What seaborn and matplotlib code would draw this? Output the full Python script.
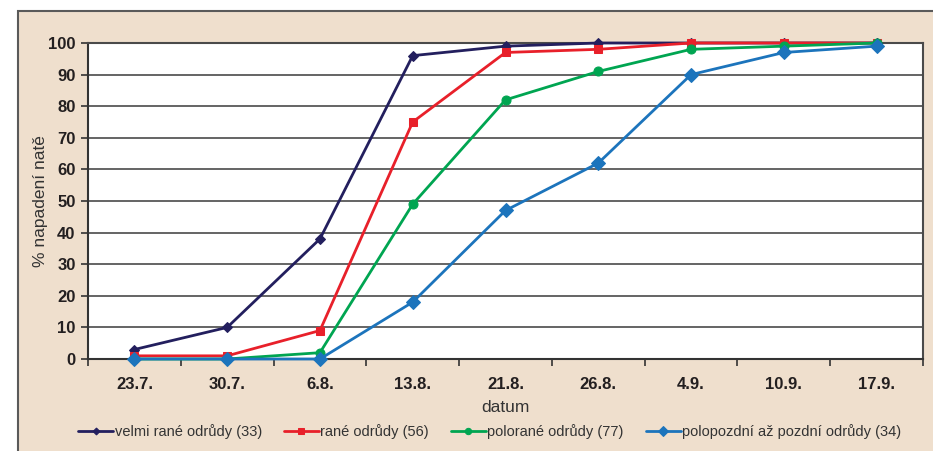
import numpy as np
import pandas as pd
import matplotlib.pyplot as plt
import seaborn as sns
from matplotlib.patches import Rectangle
from matplotlib.ticker import FixedLocator

# %%
datumy = ["23.7.", "30.7.", "6.8.", "13.8.", "21.8.", "26.8.", "4.9.", "10.9.", "17.9."]
velmi_rane = [3, 10, 38, 96, 99, 100, 100, 100, 100]
rane = [1, 1, 9, 75, 97, 98, 100, 100, 100]
polorane = [0, 0, 2, 49, 82, 91, 98, 99, 100]
polopozdni = [0, 0, 0, 18, 47, 62, 90, 97, 99]

nazvy = ["velmi rané odrůdy (33)", "rané odrůdy (56)",
         "polorané odrůdy (77)", "polopozdní až pozdní odrůdy (34)"]
barvy = ["#231F5E", "#E8202A", "#00A551", "#1C74BC"]
znacky = ["D", "s", "o", "D"]
velikosti = [5, 6, 6.5, 7]

# %%
sns.set_theme(style="white")
plt.rcParams["font.family"] = ["Liberation Sans", "DejaVu Sans"]

BEZ = "#EFDFCD"
fig = plt.figure(figsize=(9.33, 4.51), dpi=100, facecolor="white")
fig.patches.append(Rectangle((18 / 933, -0.01), 1, 1.01 - 11 / 451, transform=fig.transFigure,
                             facecolor=BEZ, edgecolor="#5a5a5a", linewidth=1.5, zorder=-10))
ax = fig.add_axes([88 / 933, 1 - 359 / 451, (923 - 88) / 933, (359 - 43) / 451])
ax.set_facecolor("white")

x = np.arange(len(datumy))
rady = [velmi_rane, rane, polorane, polopozdni]
for hodnoty, nazev, barva, znacka, vel in zip(rady, nazvy, barvy, znacky, velikosti):
    sns.lineplot(x=x, y=hodnoty, ax=ax, color=barva, marker=znacka, markersize=vel,
                 markeredgecolor=barva, linewidth=2, label=nazev, clip_on=False, zorder=3,
                 legend=False)

ax.set_xlim(-0.5, len(datumy) - 0.5)
ax.set_ylim(0, 100)
ax.set_yticks(range(0, 101, 10))
ax.yaxis.grid(True, color="#4a4a4a", linewidth=1.2)
ax.set_axisbelow(True)

ax.set_xticks(x)
ax.set_xticklabels(datumy, fontsize=12, fontweight="bold", color="#231F20")
ax.xaxis.set_minor_locator(FixedLocator(np.arange(-0.5, len(datumy), 1)))
ax.tick_params(axis="x", which="major", length=0, pad=13)
ax.tick_params(axis="x", which="minor", length=5, width=1.2, color="#333333", direction="out",
               bottom=True)
ax.tick_params(axis="y", length=5, width=1.2, color="#333333", direction="out", left=True,
               labelsize=12, labelcolor="#231F20", pad=4)
for lab in ax.get_yticklabels():
    lab.set_fontweight("bold")

for s in ax.spines.values():
    s.set_color("#4a4a4a")
    s.set_linewidth(1.5)
ax.spines["left"].set_color("#333333")
ax.spines["bottom"].set_color("#333333")

ax.set_xlabel("datum", fontsize=12.5, color="#333333", labelpad=6)
ax.set_ylabel("% napadení natě", fontsize=12.5, color="#333333", labelpad=0)

handles = ax.get_lines()[:len(nazvy)]
fig.legend(handles, nazvy, loc="center", bbox_to_anchor=(0.525, 1 - 432 / 451), ncol=4,
           frameon=False, fontsize=10.5, handlelength=2.4, handletextpad=0.1,
           columnspacing=1.5, labelcolor="#333333", markerscale=0.7)

fig.savefig("out.png", dpi=100, facecolor="white")
